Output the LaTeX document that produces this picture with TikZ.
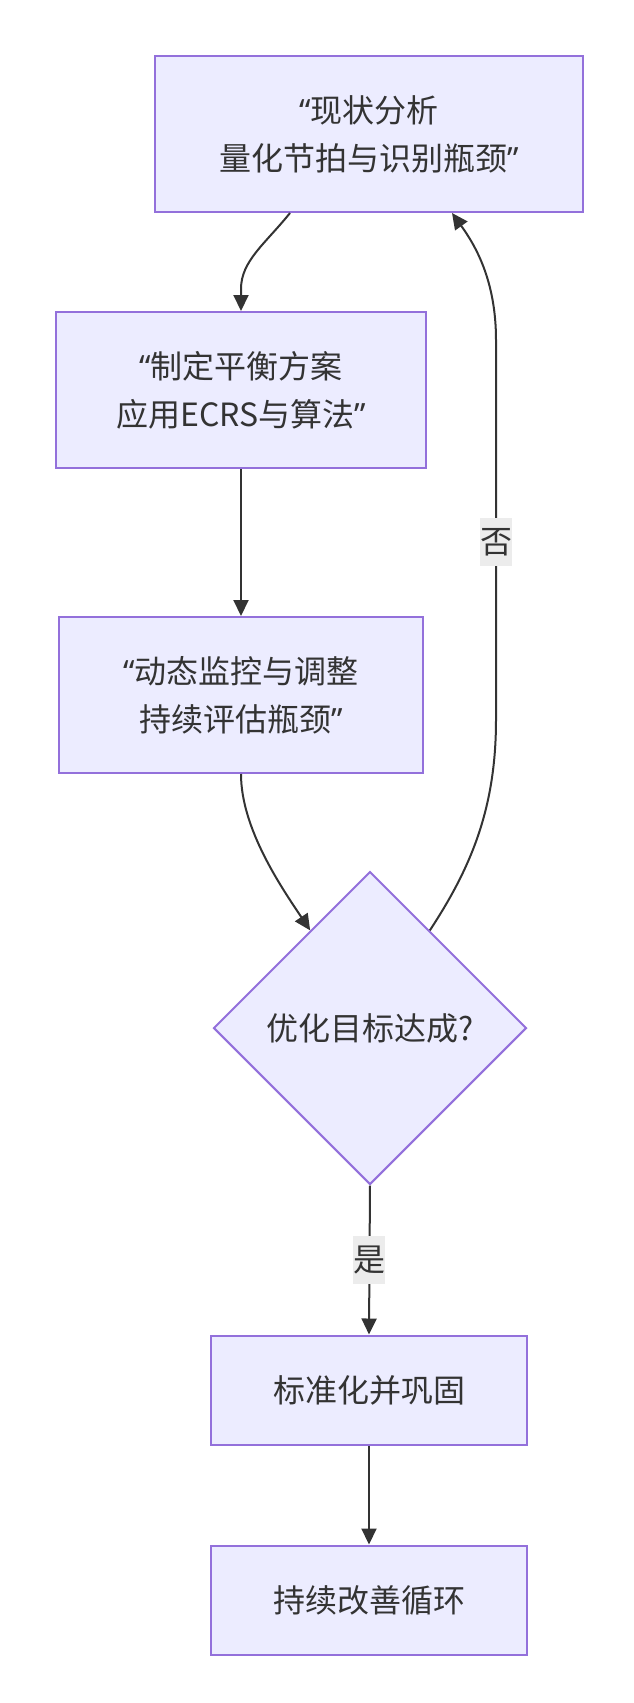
\documentclass[tikz,border=0pt]{standalone}
\usepackage{fontspec}
\setmainfont{Noto Sans CJK SC}
\newfontfamily\qf{Noto Sans}
\newcommand{\myLq}{{\qf “}}
\newcommand{\myRq}{{\qf ”}}
\usetikzlibrary{shapes.geometric,arrows.meta,calc}
\definecolor{nodefill}{HTML}{ECECFF}
\definecolor{nodeline}{HTML}{9370DB}
\definecolor{txt}{HTML}{333333}
\definecolor{edge}{HTML}{333333}
\definecolor{lblbg}{HTML}{ECECEC}
\begin{document}
\begin{tikzpicture}[x=1pt,y=-1pt,
  every node/.style={text=txt,font=\fontsize{32}{48}\selectfont},
  box/.style={draw=nodeline,fill=nodefill,line width=2pt,rectangle,align=center,inner sep=0pt},
  decision/.style={draw=nodeline,fill=nodefill,line width=2pt,diamond,aspect=1,inner sep=0pt,minimum width=313pt,minimum height=313pt},
  conn/.style={draw=edge,line width=2pt,-{Triangle[length=16pt,width=15pt]}},
  lbl/.style={fill=lblbg,inner sep=0pt,minimum width=32pt,minimum height=48pt}]
\useasboundingbox (0,0) rectangle (634,1703);
\node[box,minimum width=428pt,minimum height=156pt] (b1) at (369,134) {\myLq 现状分析\\量化节拍与识别瓶颈\myRq};
\node[box,minimum width=370pt,minimum height=156pt] (b2) at (241,390) {\myLq 制定平衡方案\\应用ECRS与算法\myRq};
\node[box,minimum width=364pt,minimum height=156pt] (b3) at (241,695) {\myLq 动态监控与调整\\持续评估瓶颈\myRq};
\node[decision] (d) at (370,1028) {优化目标达成?};
\node[box,minimum width=316pt,minimum height=109pt] (b4) at (369,1390) {标准化并巩固};
\node[box,minimum width=316pt,minimum height=109pt] (b5) at (369,1600) {持续改善循环};
% edges
\draw[conn] ([xshift=-79pt]b1.south) .. controls +(-25,31) and +(0,-28) .. ([yshift=22pt]b2.north) -- (b2.north);
\draw[conn] (b2.south) -- (b3.north);
\coordinate (dl) at ($(d.north)!0.38!(d.west)$);
\coordinate (dr) at ($(d.north)!0.38!(d.east)$);
\draw[conn] (b3.south) .. controls +(0,55) and +(-28,-42) .. (dl);
\coordinate (up1) at (496,720);
\coordinate (up2) at (496,340);
\draw[conn] (dr) .. controls +(40,-61) and +(0,90) .. (up1) -- (up2) .. controls +(0,-60) and +(23,32) .. ([xshift=83pt]b1.south);
\node[lbl] (no) at (496,542) {否};
\draw[conn] (d.south) -- (b4.north);
\node[lbl] (yes) at (369,1260) {是};
\draw[conn] (b4.south) -- (b5.north);
\end{tikzpicture}
\end{document}
